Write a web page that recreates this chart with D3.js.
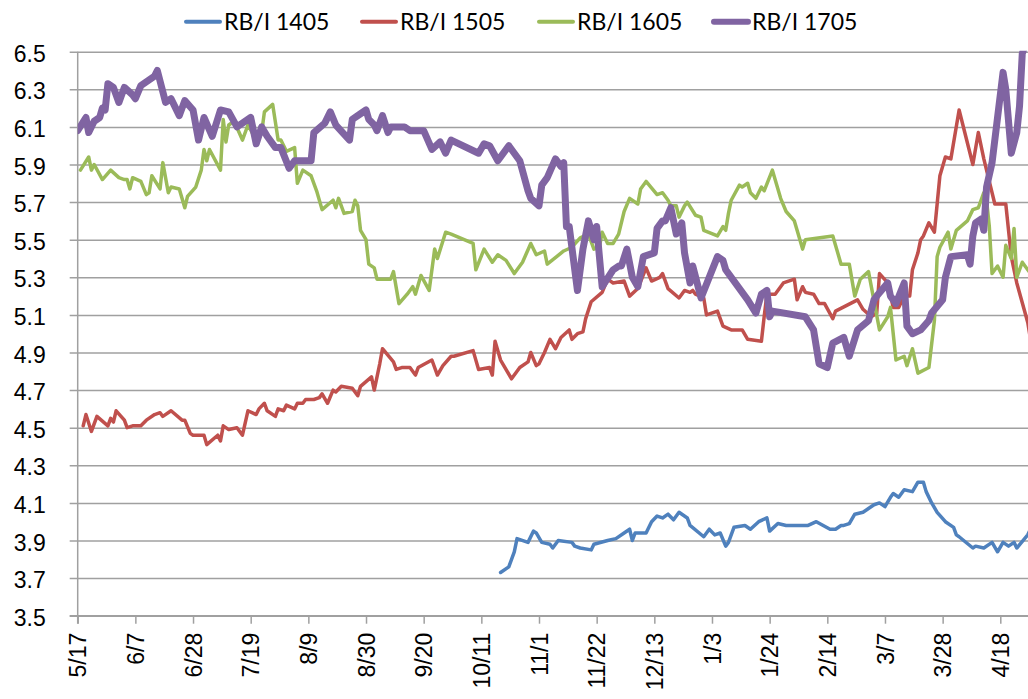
<!DOCTYPE html>
<html>
<head>
<meta charset="utf-8">
<script src="https://cdn.jsdelivr.net/npm/d3@7"></script>
<style>
  html, body { margin: 0; padding: 0; background: #fff; }
  svg { display: block; font-family: Lato, "Open Sans", sans-serif; }
</style>
</head>
<body>
<div id="chart"></div>
<script>
// x 轴刻度标签（每 21 天一个）
const tickLabels = ["5/17", "6/7", "6/28", "7/19", "8/9", "8/30", "9/20", "10/11", "11/1",
    "11/22", "12/13", "1/3", "1/24", "2/14", "3/7", "3/28", "4/18"];
const yTicks = [3.5, 3.7, 3.9, 4.1, 4.3, 4.5, 4.7, 4.9, 5.1, 5.3, 5.5, 5.7, 5.9, 6.1, 6.3, 6.5];
const seriesNames = ["RB/I 1405", "RB/I 1505", "RB/I 1605", "RB/I 1705"];

// 数据：[距 2013-05-17 的天数, 比值]
const rb1405 = [
    [154,3.73],[157,3.76],[159,3.84],[160,3.91],[164,3.89],[166,3.95],[167,3.94],[169,3.89],[172,3.88],
    [173,3.86],[175,3.90],[180,3.89],[181,3.87],[183,3.86],[187,3.85],[188,3.88],[193,3.90],[196,3.91],
    [199,3.94],[201,3.96],[202,3.90],[203,3.94],[207,3.94],[209,4.00],[211,4.03],[213,4.02],[215,4.04],
    [217,4.01],[219,4.05],[222,4.02],[223,3.98],[228,3.92],[230,3.96],[232,3.93],[234,3.94],[236,3.87],
    [237,3.89],[239,3.97],[243,3.98],[245,3.96],[248,4.00],[251,4.02],[252,3.95],[255,3.99],[258,3.98],
    [266,3.98],[269,4.00],[274,3.96],[276,3.96],[278,3.98],[279,3.98],[281,3.99],[283,4.04],[286,4.05],
    [288,4.07],[290,4.09],[292,4.10],[294,4.08],[296,4.13],[297,4.15],[299,4.13],[301,4.17],[304,4.16],
    [306,4.21],[308,4.21],[309,4.16],[311,4.10],[313,4.05],[316,4.00],[319,3.97],[320,3.93],[321,3.92],
    [326,3.86],[327,3.87],[330,3.86],[333,3.89],[335,3.84],[337,3.89],[339,3.87],[341,3.89],[342,3.86],
    [346,3.93],[347,3.96]
];
const rb1505 = [
    [2,4.51],[3,4.57],[5,4.48],[7,4.56],[11,4.51],[12,4.55],[13,4.53],[14,4.59],[17,4.54],[18,4.50],
    [20,4.51],[23,4.51],[25,4.54],[28,4.57],[30,4.58],[31,4.56],[34,4.59],[38,4.54],[39,4.54],[41,4.47],
    [42,4.46],[46,4.46],[47,4.41],[51,4.46],[52,4.43],[53,4.51],[55,4.49],[58,4.50],[60,4.46],[62,4.59],
    [65,4.57],[66,4.60],[68,4.63],[69,4.59],[72,4.56],[73,4.60],[75,4.59],[76,4.62],[79,4.60],[80,4.63],
    [82,4.63],[83,4.65],[86,4.65],[88,4.66],[89,4.68],[91,4.63],[93,4.70],[94,4.69],[96,4.72],[100,4.71],
    [102,4.67],[103,4.72],[107,4.77],[108,4.70],[110,4.84],[111,4.92],[115,4.85],[116,4.81],[118,4.82],
    [121,4.82],[123,4.78],[124,4.82],[129,4.86],[131,4.78],[133,4.83],[136,4.88],[137,4.88],[144,4.91],
    [146,4.81],[150,4.82],[151,4.78],[152,4.96],[154,4.86],[158,4.76],[161,4.82],[164,4.85],[165,4.90],
    [167,4.83],[168,4.84],[170,4.90],[172,4.97],[174,4.92],[176,4.98],[179,5.02],[180,4.97],[182,5.00],
    [184,5.01],[185,5.08],[187,5.17],[191,5.22],[193,5.29],[195,5.27],[199,5.28],[201,5.20],[204,5.24],
    [207,5.35],[209,5.28],[212,5.30],[213,5.32],[215,5.24],[219,5.19],[221,5.23],[223,5.22],[224,5.23],
    [225,5.21],[228,5.19],[229,5.10],[233,5.12],[235,5.04],[238,5.02],[242,5.02],[244,4.97],[249,4.96],
    [250,5.09],[251,5.21],[254,5.21],[257,5.27],[261,5.29],[262,5.18],[264,5.25],[265,5.22],[268,5.21],
    [270,5.16],[272,5.16],[275,5.08],[276,5.12],[284,5.18],[286,5.13],[289,5.09],[291,5.11],[292,5.32],
    [295,5.27],[297,5.14],[299,5.14],[301,5.20],[303,5.20],[304,5.34],[306,5.43],[307,5.50],[308,5.52],
    [310,5.59],[312,5.54],[313,5.69],[314,5.84],[316,5.94],[318,5.93],[321,6.19],[326,5.90],[328,6.07],
    [330,5.93],[334,5.69],[338,5.69],[340,5.41],[342,5.27],[346,5.06],[347,4.97]
];
const rb1605 = [
    [1,5.87],[4,5.94],[5,5.87],[6,5.90],[9,5.82],[12,5.87],[15,5.83],[17,5.82],[18,5.82],[19,5.77],
    [20,5.83],[23,5.81],[25,5.74],[26,5.75],[27,5.84],[30,5.77],[31,5.91],[33,5.75],[34,5.78],[37,5.77],
    [39,5.67],[40,5.73],[43,5.78],[45,5.87],[46,5.98],[47,5.92],[48,5.98],[52,5.87],[53,6.14],[54,6.02],
    [55,6.11],[57,6.13],[60,6.03],[62,6.11],[65,6.03],[67,6.07],[68,6.18],[71,6.22],[73,6.03],[74,6.03],
    [76,5.97],[79,5.99],[80,5.80],[82,5.87],[85,5.84],[87,5.76],[89,5.66],[93,5.71],[94,5.67],[95,5.72],
    [97,5.64],[100,5.65],[101,5.71],[102,5.68],[103,5.55],[105,5.50],[106,5.37],[108,5.35],[109,5.29],
    [114,5.29],[115,5.33],[117,5.16],[120,5.21],[122,5.25],[123,5.21],[125,5.31],[128,5.23],[130,5.45],
    [131,5.40],[134,5.54],[136,5.53],[144,5.48],[145,5.34],[148,5.45],[151,5.38],[153,5.42],[156,5.39],
    [159,5.32],[162,5.38],[165,5.48],[167,5.42],[170,5.44],[171,5.37],[177,5.44],[180,5.46],[183,5.51],
    [186,5.53],[188,5.45],[190,5.46],[191,5.54],[193,5.48],[195,5.48],[197,5.53],[199,5.65],[201,5.72],
    [204,5.69],[205,5.77],[207,5.81],[211,5.74],[213,5.75],[215,5.71],[216,5.68],[218,5.68],[219,5.62],
    [221,5.68],[222,5.70],[225,5.63],[227,5.62],[228,5.55],[233,5.52],[235,5.57],[236,5.55],[237,5.64],
    [238,5.71],[241,5.79],[242,5.78],[244,5.80],[245,5.75],[247,5.72],[249,5.78],[250,5.76],[253,5.87],
    [256,5.72],[258,5.65],[261,5.60],[262,5.55],[264,5.45],[265,5.50],[275,5.52],[278,5.37],[281,5.37],
    [283,5.20],[285,5.29],[288,5.33],[292,5.02],[295,5.09],[296,5.14],[298,4.86],[301,4.88],[302,4.83],
    [304,4.92],[306,4.79],[310,4.82],[312,5.07],[313,5.41],[314,5.46],[317,5.54],[318,5.45],[320,5.55],
    [324,5.60],[326,5.66],[328,5.67],[330,5.75],[331,5.71],[332,5.57],[333,5.32],[335,5.36],[337,5.30],
    [338,5.47],[340,5.40],[341,5.56],[342,5.30],[344,5.38],[347,5.32]
];
const rb1705 = [
    [0,6.08],[3,6.15],[4,6.07],[6,6.13],[8,6.15],[9,6.20],[10,6.19],[11,6.33],[13,6.31],[15,6.23],
    [17,6.31],[20,6.27],[21,6.25],[23,6.32],[28,6.37],[29,6.40],[32,6.23],[34,6.25],[37,6.16],[39,6.24],
    [42,6.19],[44,6.03],[46,6.15],[49,6.05],[52,6.19],[55,6.18],[58,6.10],[63,6.15],[65,6.01],[67,6.10],
    [69,6.05],[72,5.99],[74,5.99],[77,5.88],[79,5.92],[85,5.92],[86,6.07],[90,6.12],[92,6.18],[94,6.11],
    [99,6.03],[100,6.14],[103,6.17],[105,6.19],[106,6.14],[108,6.11],[109,6.08],[111,6.16],[113,6.07],
    [114,6.10],[119,6.10],[121,6.08],[126,6.08],[129,5.98],[132,6.02],[134,5.96],[136,6.03],[146,5.96],
    [148,6.01],[150,6.00],[153,5.92],[157,6.00],[161,5.92],[164,5.76],[165,5.72],[168,5.68],[169,5.79],
    [171,5.83],[174,5.93],[176,5.89],[177,5.91],[178,5.57],[179,5.57],[182,5.23],[184,5.45],[186,5.60],
    [188,5.50],[189,5.57],[191,5.25],[195,5.34],[197,5.36],[198,5.36],[200,5.45],[202,5.30],[204,5.25],
    [206,5.41],[210,5.43],[211,5.56],[213,5.60],[214,5.60],[216,5.67],[218,5.53],[220,5.59],[221,5.43],
    [223,5.27],[224,5.36],[227,5.19],[233,5.41],[235,5.39],[236,5.34],[244,5.18],[247,5.11],[249,5.21],
    [251,5.23],[252,5.09],[253,5.12],[265,5.09],[268,5.02],[270,4.84],[273,4.82],[275,4.95],[279,4.98],
    [281,4.88],[284,5.02],[288,5.07],[290,5.18],[291,5.20],[295,5.27],[296,5.20],[298,5.16],[301,5.27],
    [302,5.04],[304,5.00],[307,5.02],[310,5.07],[311,5.11],[315,5.18],[316,5.30],[318,5.41],[324,5.42],
    [325,5.37],[326,5.52],[327,5.59],[329,5.61],[330,5.55],[331,5.78],[333,5.91],[335,6.15],[337,6.39],
    [338,6.30],[340,5.96],[342,6.07],[343,6.21],[344,6.49],[347,6.62]
];

const colors = ["#4f81bd", "#c0504d", "#9bbb59", "#8064a2"];
const widths = [3.5, 3.5, 3.5, 7];

// 画布
const width = 1028, height = 699;
const plotLeft = 77.7, plotRight = 1028, plotTop = 51.7, plotBottom = 615.7;
const fontSize = 23;
const svg = d3.select("#chart").append("svg")
    .attr("width", width)
    .attr("height", height);

const start = new Date(2013, 4, 17);
const toDate = d => d3.timeDay.offset(start, d);
const tickDates = tickLabels.map((t, i) => toDate(i * 21));

const x = d3.scaleTime()
    .domain([start, toDate(336)])
    .range([plotLeft, 1000.3]);
const y = d3.scaleLinear()
    .domain([3.5, 6.5])
    .range([plotBottom, plotTop]);

// 网格线 + y 轴
const yAxis = d3.axisLeft(y)
    .tickValues(yTicks)
    .tickSize(-(plotRight - plotLeft + 8))
    .tickPadding(24)
    .tickFormat(d3.format(".1f"));
const gy = svg.append("g")
    .attr("transform", "translate(" + (plotLeft - 8) + ",0)")
    .call(yAxis);
gy.select(".domain").remove();
gy.selectAll(".tick line")
    .attr("stroke", "#a0a0a0")
    .attr("stroke-width", 1.5);
gy.selectAll(".tick text")
    .attr("font-size", fontSize)
    .attr("fill", "#000")
    .attr("dy", "0.42em");

// x 轴
const xAxis = d3.axisBottom(x)
    .tickValues(tickDates)
    .tickSize(8)
    .tickSizeOuter(0)
    .tickFormat((d, i) => tickLabels[i]);
const gx = svg.append("g")
    .attr("transform", "translate(0," + plotBottom + ")")
    .call(xAxis);
gx.select(".domain")
    .attr("d", "M" + (plotLeft - 8) + ",0H" + plotRight)
    .attr("stroke", "#a0a0a0")
    .attr("stroke-width", 1.5);
gx.selectAll(".tick line")
    .attr("stroke", "#a0a0a0")
    .attr("stroke-width", 1.5);
gx.selectAll(".tick text")
    .attr("font-size", fontSize)
    .attr("fill", "#000")
    .attr("transform", "rotate(-90)")
    .attr("text-anchor", "end")
    .attr("x", -17)
    .attr("y", 0)
    .attr("dy", "0.36em");

// 纵轴线
svg.append("line")
    .attr("x1", plotLeft).attr("x2", plotLeft)
    .attr("y1", plotTop).attr("y2", plotBottom + 8)
    .attr("stroke", "#a0a0a0")
    .attr("stroke-width", 1.5);

// 裁剪区
svg.append("clipPath").attr("id", "plot")
    .append("rect")
    .attr("x", plotLeft).attr("y", plotTop - 1)
    .attr("width", plotRight - plotLeft).attr("height", plotBottom - plotTop + 1);

const line = d3.line()
    .x(d => x(toDate(d[0])))
    .y(d => y(d[1]));

const allSeries = [rb1405, rb1505, rb1605, rb1705];
svg.append("g")
    .attr("clip-path", "url(#plot)")
    .selectAll("path")
    .data(allSeries)
    .join("path")
    .attr("d", line)
    .attr("fill", "none")
    .attr("stroke", (d, i) => colors[i])
    .attr("stroke-width", (d, i) => widths[i])
    .attr("stroke-linejoin", "round")
    .attr("stroke-linecap", "round");

// 图例
const legendX = [186, 362, 539, 714];
const legend = svg.append("g")
    .selectAll("g")
    .data(seriesNames)
    .join("g")
    .attr("transform", (d, i) => "translate(" + legendX[i] + ",21.7)");
legend.append("line")
    .attr("x1", 0).attr("x2", 34)
    .attr("stroke", (d, i) => colors[i])
    .attr("stroke-width", (d, i) => i === 3 ? 6 : 4)
    .attr("stroke-linecap", "round");
legend.append("text")
    .attr("x", 38)
    .attr("dy", "0.36em")
    .attr("font-size", fontSize)
    .text(d => d);
</script>
</body>
</html>
